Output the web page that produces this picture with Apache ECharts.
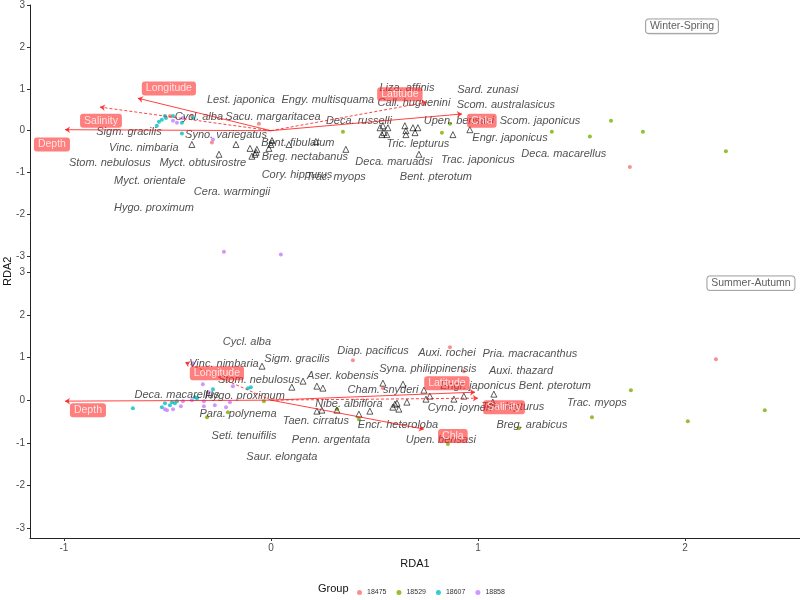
<!DOCTYPE html>
<html><head><meta charset="utf-8">
<script src="https://cdn.jsdelivr.net/npm/echarts@6/dist/echarts.min.js"></script>
<style>html,body{margin:0;padding:0;background:#fff}#c{width:800px;height:600px}</style>
</head><body><div id="c"></div>
<script>
// ---------- DATA ----------
const groups = ['18475', '18529', '18607', '18858'];
const panels = ['Winter-Spring', 'Summer-Autumn'];
const xTicks = [-1, 0, 1, 2];
const yTicks = [-3, -2, -1, 0, 1, 2, 3];

// Winter-Spring site scores by group
const ws18475 = [[-0.488,0.352],[-0.382,0.352],[-0.285,-0.282],[-0.058,0.164],[1.734,-0.869]];
const ws18529 = [[0.348,-0.023],[0.826,-0.047],[0.865,0.164],[1.357,-0.023],[1.541,-0.141],[1.643,0.235],[1.797,-0.023],[2.198,-0.493]];
const ws18607 = [[-0.551,0.117],[-0.541,0.211],[-0.527,0.258],[-0.512,0.352],[-0.507,0.305],[-0.473,0.352],[-0.430,0.188],[-0.430,-0.070],[-0.377,0.305]];
const ws18858 = [[-0.473,0.235],[-0.454,0.188],[-0.425,0.305],[-0.280,-0.211],[-0.227,-2.887],[0.048,-2.958]];

// Summer-Autumn site scores by group
const sa18475 = [[0.396,0.937],[0.865,1.241],[0.932,0.679],[0.541,0.281],[2.150,0.960]];
const sa18529 = [[-0.208,-0.281],[-0.309,-0.398],[-0.034,-0.023],[0.319,-0.211],[0.425,-0.445],[1.198,-0.656],[0.855,-1.030],[1.551,-0.398],[1.739,0.234],[2.014,-0.492],[2.386,-0.234]];
const sa18607 = [[-0.667,-0.187],[-0.527,-0.164],[-0.512,-0.070],[-0.488,-0.117],[-0.478,-0.047],[-0.464,-0.070],[-0.454,-0.023],[-0.367,0.070],[-0.357,0.047],[-0.280,0.258],[-0.111,0.281],[-0.097,0.304]];
const sa18858 = [[-0.329,0.375],[-0.300,0.187],[-0.184,0.328],[-0.512,-0.211],[-0.502,-0.234],[-0.473,-0.211],[-0.435,-0.141],[-0.425,-0.023],[-0.382,0.0],[-0.324,-0.023],[-0.324,-0.141],[-0.271,-0.117],[-0.217,-0.164],[-0.198,-0.047],[-0.377,0.867]];

// Species scores (triangles)
const wsSpecies = [[-0.382,-0.329],[-0.251,-0.563],[-0.169,-0.329],[-0.101,-0.423],[-0.068,-0.446],[-0.072,-0.516],[-0.092,-0.610],[-0.077,-0.563],[0.005,-0.235],[0.0,-0.329],[-0.010,-0.423],[0.087,-0.329],[0.217,-0.258],[0.362,-0.446],[0.527,0.070],[0.541,0.117],[0.565,0.070],[0.536,-0.094],[0.560,-0.094],[0.546,-0.047],[0.647,0.117],[0.652,0.0],[0.652,-0.094],[0.686,0.070],[0.710,0.070],[0.696,-0.047],[0.715,-0.563],[0.879,-0.094],[0.961,0.023]];
const saSpecies = [[-0.043,0.796],[0.155,0.445],[0.101,0.304],[0.222,0.328],[0.251,0.281],[0.222,-0.258],[0.246,-0.234],[0.319,-0.234],[0.425,-0.328],[0.478,-0.258],[0.541,0.398],[0.638,0.375],[0.599,-0.094],[0.609,-0.070],[0.589,-0.164],[0.618,-0.211],[0.657,-0.047],[0.739,0.234],[0.768,0.094],[0.749,0.023],[0.884,0.023],[0.932,0.094],[1.077,0.141],[1.072,-0.047]];

// Species labels (repelled label positions)
const wsLabelNames = ['Lest. japonica','Engy. multisquama','Liza. affinis','Sard. zunasi','Call. huguenini','Scom. australasicus','Cycl. alba','Sacu. margaritacea','Deca. russelli','Upen. bensasi','Scom. japonicus','Sigm. gracilis','Syno. variegatus','Engr. japonicus','Bent. fibulatum','Tric. lepturus','Vinc. nimbaria','Deca. macarellus','Breg. nectabanus','Stom. nebulosus','Myct. obtusirostre','Deca. maruadsi','Trac. japonicus','Cory. hippurus','Trac. myops','Bent. pterotum','Myct. orientale','Cera. warmingii','Hygo. proximum'];
const wsLabelPos = [[-0.145,0.728],[0.275,0.728],[0.657,1.009],[1.048,0.962],[0.691,0.657],[1.135,0.610],[-0.348,0.329],[0.010,0.329],[0.425,0.235],[0.908,0.235],[1.300,0.235],[-0.686,-0.023],[-0.217,-0.094],[1.155,-0.164],[0.130,-0.282],[0.710,-0.305],[-0.614,-0.423],[1.415,-0.563],[0.164,-0.634],[-0.778,-0.775],[-0.329,-0.775],[0.594,-0.751],[1.0,-0.704],[0.126,-1.056],[0.314,-1.103],[0.797,-1.103],[-0.585,-1.197],[-0.188,-1.455],[-0.565,-1.854]];
const saLabelNames = ['Cycl. alba','Diap. pacificus','Auxi. rochei','Pria. macracanthus','Vinc. nimbaria','Sigm. gracilis','Syna. philippinensis','Auxi. thazard','Stom. nebulosus','Aser. kobensis','Cham. snyderi','Engr. japonicus','Bent. pterotum','Deca. macarellus','Hygo. proximum','Nibe. albiflora','Cyno. joyneri','Tric. lepturus','Trac. myops','Para. polynema','Taen. cirratus','Encr. heteroloba','Breg. arabicus','Seti. tenuifilis','Penn. argentata','Upen. bensasi','Saur. elongata'];
const saLabelPos = [[-0.116,1.358],[0.493,1.148],[0.850,1.101],[1.251,1.077],[-0.227,0.843],[0.126,0.960],[0.758,0.726],[1.208,0.679],[-0.058,0.468],[0.348,0.562],[0.541,0.234],[1.0,0.328],[1.372,0.328],[-0.454,0.117],[-0.126,0.094],[0.377,-0.094],[0.913,-0.187],[1.169,-0.164],[1.575,-0.070],[-0.159,-0.328],[0.217,-0.492],[0.614,-0.585],[1.261,-0.585],[-0.130,-0.843],[0.290,-0.937],[0.821,-0.937],[0.053,-1.335]];

// Environmental vectors
const envNames = ['Depth','Longitude','Salinity','Latitude','Chla'];
const wsEnvEnd = [[-0.995,0.023],[-0.643,0.775],[-0.826,0.563],[0.754,0.681],[0.923,0.399]];
const wsEnvSignificant = [true, true, false, false, true];
const wsEnvLabelPos = [[-1.058,-0.329],[-0.493,1.009],[-0.821,0.235],[0.623,0.869],[1.019,0.235]];
const saEnvEnd = [[-0.995,-0.023],[-0.415,0.890],[1.0,0.047],[0.986,0.187],[0.739,-0.679]];
const saEnvSignificant = [true, false, false, true, true];
const saEnvLabelPos = [[-0.884,-0.234],[-0.261,0.632],[1.126,-0.164],[0.850,0.398],[0.879,-0.843]];

// Panel tag positions
const panelTagPos = [[1.986,2.49],[2.319,2.74]];

// ---------- CHART ----------
const groupColors = ['#F8766D', '#7CAE00', '#00BFC4', '#C77CFF'];
const FONT = 'Liberation Sans, Arial, sans-serif';
const xMin = -1.164, xMax = 2.556;

function panelSeries(p, sites, species, labNames, labPos, envEnd, envSig, envLabPos) {
  const out = [];
  sites.forEach((arr, i) => {
    out.push({
      type: 'scatter', name: groups[i], xAxisIndex: p, yAxisIndex: p,
      data: arr, symbolSize: 4, z: 2, silent: true,
      itemStyle: { color: groupColors[i] }
    });
  });
  out.push({
    type: 'scatter', xAxisIndex: p, yAxisIndex: p, data: species,
    symbol: 'triangle', symbolSize: 6, z: 3, silent: true,
    itemStyle: { color: 'rgba(255,255,255,0)', borderColor: '#000', borderWidth: 0.8 }
  });
  out.push({
    type: 'scatter', xAxisIndex: p, yAxisIndex: p, z: 4, silent: true,
    symbolSize: 1, itemStyle: { color: 'rgba(0,0,0,0)' },
    data: labNames.map((n, i) => ({ name: n, value: labPos[i] })),
    label: { show: true, position: 'inside', formatter: '{b}', color: '#262626',
      fontSize: 11, fontStyle: 'italic', fontFamily: FONT }
  });
  out.push({
    type: 'lines', coordinateSystem: 'cartesian2d', xAxisIndex: p, yAxisIndex: p,
    z: 5, silent: true, symbol: ['none', 'arrow'], symbolSize: 5,
    lineStyle: { color: 'rgba(255,20,20,0.8)', width: 1, opacity: 1 },
    data: envEnd.map((e, i) => ({ coords: [[0, 0], e],
      lineStyle: { type: envSig[i] ? 'solid' : [3, 2] } }))
  });
  out.push({
    type: 'scatter', xAxisIndex: p, yAxisIndex: p, z: 6, silent: true,
    symbolSize: 1, itemStyle: { color: 'rgba(0,0,0,0)' },
    data: envNames.map((n, i) => ({ name: n, value: envLabPos[i] })),
    label: { show: true, position: 'inside', formatter: '{b}', color: '#fff',
      fontSize: 10.5, fontFamily: FONT, backgroundColor: 'rgba(255,40,40,0.75)',
      padding: [2, 4, 1, 4], borderRadius: 3 }
  });
  out.push({
    type: 'scatter', xAxisIndex: p, yAxisIndex: p, z: 6, silent: true,
    symbolSize: 1, itemStyle: { color: 'rgba(0,0,0,0)' },
    data: [{ name: panels[p], value: panelTagPos[p] }],
    label: { show: true, position: 'inside', formatter: '{b}', color: '#333',
      fontSize: 10.5, fontFamily: FONT, backgroundColor: '#fff',
      borderColor: '#777', borderWidth: 0.8, padding: [2, 4, 1, 4], borderRadius: 3 }
  });
  return out;
}

const yAxisCommon = (min, max, idx) => ({
  gridIndex: idx, type: 'value', min: min, max: max,
  axisLine: { show: true, onZero: false, lineStyle: { color: '#222', width: 1 } },
  axisTick: { show: true, customValues: yTicks, length: 3, lineStyle: { color: '#333' } },
  axisLabel: { customValues: yTicks, color: '#4d4d4d', fontSize: 10, margin: 5, fontFamily: FONT },
  splitLine: { show: false }
});

const chart = echarts.init(document.getElementById('c'), null, { renderer: 'canvas' });
chart.setOption({
  backgroundColor: '#fff',
  animation: false,
  grid: [
    { left: 30, right: 0, top: 0, height: 266 },
    { left: 30, right: 0, top: 264, height: 274 }
  ],
  xAxis: [
    { gridIndex: 0, type: 'value', min: xMin, max: xMax, show: false, splitLine: { show: false } },
    { gridIndex: 1, type: 'value', min: xMin, max: xMax,
      axisLine: { show: true, onZero: false, lineStyle: { color: '#222', width: 1 } },
      axisTick: { show: true, customValues: xTicks, length: 3, lineStyle: { color: '#333' } },
      axisLabel: { customValues: xTicks, color: '#4d4d4d', fontSize: 10, margin: 5, fontFamily: FONT },
      splitLine: { show: false },
      name: 'RDA1', nameLocation: 'middle', nameGap: 20,
      nameTextStyle: { color: '#111', fontSize: 11, fontFamily: FONT } }
  ],
  yAxis: [ yAxisCommon(-3.23, 3.0, 0), yAxisCommon(-3.23, 3.19, 1) ],
  legend: {
    data: groups, left: 352, top: 584, icon: 'circle', itemWidth: 5, itemHeight: 5,
    itemGap: 10, selectedMode: false,
    textStyle: { fontSize: 7, color: '#333', fontFamily: FONT }
  },
  graphic: [
    { type: 'text', left: 318, top: 583, style: { text: 'Group', fontSize: 11, fill: '#111', fontFamily: FONT } },
    { type: 'text', x: 2, y: 286, rotation: Math.PI / 2,
      style: { text: 'RDA2', fontSize: 11, fill: '#111', fontFamily: FONT } }
  ],
  series: [].concat(
    panelSeries(0, [ws18475, ws18529, ws18607, ws18858], wsSpecies, wsLabelNames, wsLabelPos, wsEnvEnd, wsEnvSignificant, wsEnvLabelPos),
    panelSeries(1, [sa18475, sa18529, sa18607, sa18858], saSpecies, saLabelNames, saLabelPos, saEnvEnd, saEnvSignificant, saEnvLabelPos)
  )
});
</script></body></html>
